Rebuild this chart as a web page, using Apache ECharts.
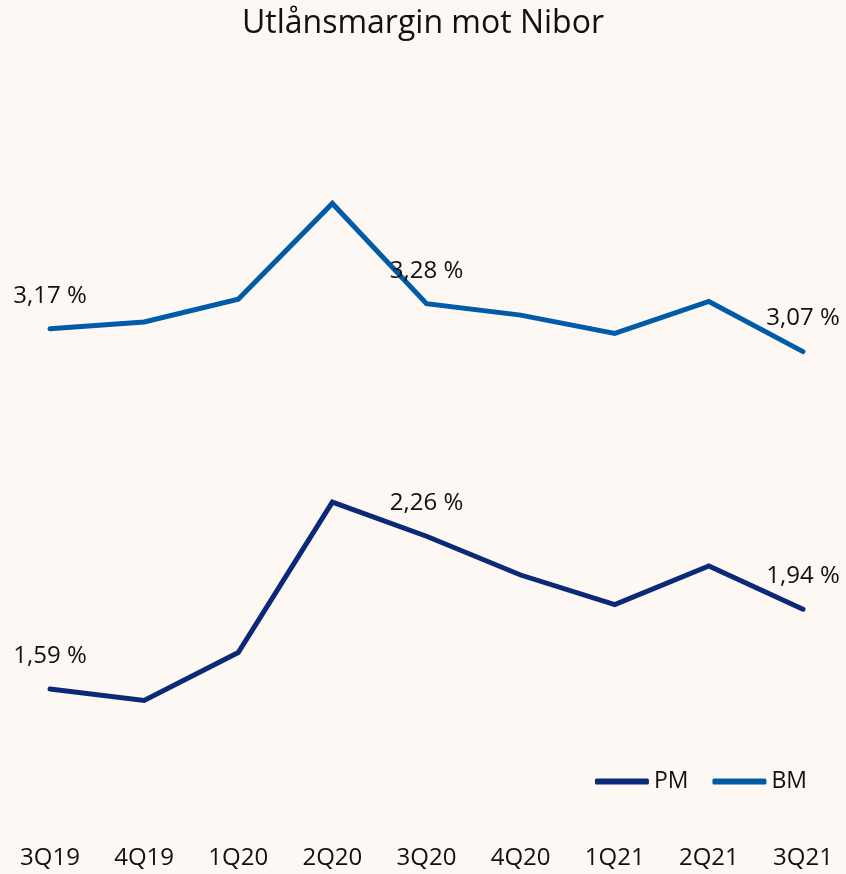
<!DOCTYPE html>
<html>
<head>
<meta charset="utf-8">
<script src="https://cdn.jsdelivr.net/npm/echarts@6/dist/echarts.min.js"></script>
<style>
html,body{margin:0;padding:0;background:#fdf8f4;}
#c{width:846px;height:874px;}
</style>
</head>
<body>
<div id="c"></div>
<script>
var categories = ['3Q19','4Q19','1Q20','2Q20','3Q20','4Q20','1Q21','2Q21','3Q21'];
var pmValues = [1.59, 1.54, 1.75, 2.41, 2.26, 2.09, 1.96, 2.13, 1.94];
var bmValues = [3.17, 3.20, 3.30, 3.72, 3.28, 3.23, 3.15, 3.29, 3.07];
var labelIndices = [0, 4, 8];

function withLabels(vals) {
  return vals.map(function (v, i) {
    return { value: v, label: { show: labelIndices.indexOf(i) >= 0 } };
  });
}
function fmt(p) {
  return p.value.toFixed(2).replace('.', ',') + ' %';
}

var FONT = 'Open Sans';
var chart = echarts.init(document.getElementById('c'));
chart.setOption({
  backgroundColor: '#fdf8f4',
  title: {
    text: 'Utlånsmargin mot Nibor',
    left: 'center',
    top: 3,
    textStyle: { fontFamily: FONT, fontSize: 32, fontWeight: 'normal', color: '#111' }
  },
  legend: {
    right: 34,
    top: 765,
    itemGap: 24,
    itemWidth: 54,
    itemHeight: 6,
    icon: 'roundRect',
    textStyle: { fontFamily: FONT, fontSize: 23, color: '#111' },
    data: ['PM', 'BM']
  },
  grid: { left: 50, right: 43, top: 94, bottom: 50.5 },
  xAxis: {
    type: 'category',
    data: categories,
    boundaryGap: false,
    axisLine: { show: false },
    axisTick: { show: false },
    axisLabel: { margin: 23, fontFamily: FONT, fontSize: 24, color: '#111' }
  },
  yAxis: {
    type: 'value',
    min: 1,
    max: 4.2,
    show: false,
    splitLine: { show: false }
  },
  series: [
    {
      name: 'PM',
      type: 'line',
      data: withLabels(pmValues),
      symbol: 'circle',
      symbolSize: 0.1,
      showSymbol: true,
      color: '#0a2a78',
      lineStyle: { width: 5, color: '#0a2a78', cap: 'round', join: 'miter' },
      label: { position: 'top', distance: 21, formatter: fmt, fontFamily: FONT, fontSize: 24, color: '#111' }
    },
    {
      name: 'BM',
      type: 'line',
      data: withLabels(bmValues),
      symbol: 'circle',
      symbolSize: 0.1,
      showSymbol: true,
      color: '#005ca8',
      lineStyle: { width: 5, color: '#005ca8', cap: 'round', join: 'miter' },
      label: { position: 'top', distance: 21, formatter: fmt, fontFamily: FONT, fontSize: 24, color: '#111' }
    }
  ]
});
</script>
</body>
</html>
